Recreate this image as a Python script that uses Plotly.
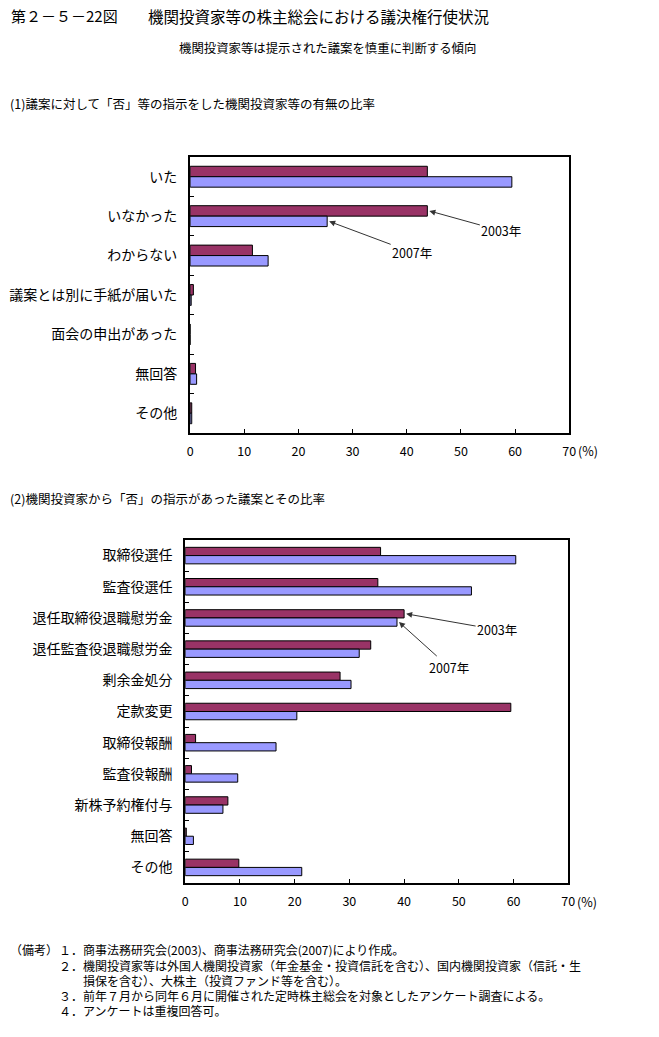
import plotly.graph_objects as go

W, H = 659, 1037

# ---- Data ----
cats1 = ["いた", "いなかった", "わからない", "議案とは別に手紙が届いた", "面会の申出があった", "無回答", "その他"]
v1_2003 = [43.8, 43.8, 11.5, 0.6, 0.0, 1.0, 0.3]
v1_2007 = [59.4, 25.3, 14.4, 0.2, 0.0, 1.2, 0.3]

cats2 = ["取締役選任", "監査役選任", "退任取締役退職慰労金", "退任監査役退職慰労金", "剰余金処分",
         "定款変更", "取締役報酬", "監査役報酬", "新株予約権付与", "無回答", "その他"]
v2_2003 = [35.7, 35.2, 40.0, 33.9, 28.3, 59.5, 1.9, 1.15, 7.8, 0.2, 9.8]
v2_2007 = [60.4, 52.3, 38.7, 31.8, 30.3, 20.4, 16.6, 9.6, 6.9, 1.5, 21.3]

series_names = ["2003年", "2007年"]
tick_vals = [0, 10, 20, 30, 40, 50, 60, 70]
tick_text = ["0", "10", "20", "30", "40", "50", "60", "70"]

notes = [
    "１．商事法務研究会(2003)、商事法務研究会(2007)により作成。",
    "２．機関投資家等は外国人機関投資家（年金基金・投資信託を含む）、国内機関投資家（信託・生",
    "損保を含む）、大株主（投資ファンド等を含む）。",
    "３．前年７月から同年６月に開催された定時株主総会を対象としたアンケート調査による。",
    "４．アンケートは重複回答可。",
]

C2003 = "#993366"
C2007 = "#9999FF"
FONT = "Noto Sans CJK JP"

def px(x):
    return x / W

def py(y):
    return 1 - y / H

fig = go.Figure()

for vals, name, col in [(v1_2003, series_names[0], C2003), (v1_2007, series_names[1], C2007)]:
    fig.add_trace(go.Bar(y=cats1, x=vals, orientation="h", name=name, marker=dict(color=col, line=dict(color="black", width=1)),
                         xaxis="x", yaxis="y"))
for vals, name, col in [(v2_2003, series_names[0], C2003), (v2_2007, series_names[1], C2007)]:
    fig.add_trace(go.Bar(y=cats2, x=vals, orientation="h", name=name, marker=dict(color=col, line=dict(color="black", width=1)),
                         xaxis="x2", yaxis="y2"))

axis_common = dict(showline=True, linecolor="black", linewidth=2, mirror=True, showgrid=False, zeroline=False)

fig.update_layout(
    width=W, height=H, margin=dict(l=0, r=0, t=0, b=0),
    paper_bgcolor="white", plot_bgcolor="white",
    showlegend=False, barmode="group", bargap=0.47, bargroupgap=0,
    font=dict(family=FONT, color="black", size=12),
    xaxis=dict(domain=[px(190), px(575)], range=[0, 70], tickvals=tick_vals, ticktext=tick_text,
               ticks="inside", ticklen=4, tickcolor="black", anchor="y", ticklabelstandoff=6,
               tickfont=dict(size=12.5), **axis_common),
    yaxis=dict(domain=[py(433), py(157)], autorange="reversed", type="category", ticks="inside", ticklen=4,
               tickson="boundaries", tickcolor="black", anchor="x", tickfont=dict(size=14), ticklabelstandoff=8,
               **axis_common),
    xaxis2=dict(domain=[px(185), px(574)], range=[0, 70], tickvals=tick_vals, ticktext=tick_text,
                ticks="inside", ticklen=4, tickcolor="black", anchor="y2", ticklabelstandoff=6,
                tickfont=dict(size=12.5), **axis_common),
    yaxis2=dict(domain=[py(883), py(540)], autorange="reversed", type="category", ticks="inside", ticklen=4,
                tickson="boundaries", tickcolor="black", anchor="x2", tickfont=dict(size=14), ticklabelstandoff=8,
                **axis_common),
)

ann = []
# titles
ann.append(dict(text="第２－５－22図", x=px(6), y=py(16), xref="paper", yref="paper", xanchor="left", yanchor="middle",
                showarrow=False, font=dict(size=15)))
ann.append(dict(text="機関投資家等の株主総会における議決権行使状況", x=px(145), y=py(16), xref="paper", yref="paper",
                xanchor="left", yanchor="middle", showarrow=False, font=dict(size=15.5)))
ann.append(dict(text="機関投資家等は提示された議案を慎重に判断する傾向", x=px(329), y=py(48), xref="paper", yref="paper",
                xanchor="center", yanchor="middle", showarrow=False, font=dict(size=12.4)))
ann.append(dict(text="(1)議案に対して「否」等の指示をした機関投資家等の有無の比率", x=px(5), y=py(103), xref="paper", yref="paper",
                xanchor="left", yanchor="middle", showarrow=False, font=dict(size=12.5)))
ann.append(dict(text="(2)機関投資家から「否」の指示があった議案とその比率", x=px(5), y=py(498), xref="paper", yref="paper",
                xanchor="left", yanchor="middle", showarrow=False, font=dict(size=12.5)))
# (%) units
ann.append(dict(text="(%)", x=px(582), y=py(451), xref="paper", yref="paper", xanchor="left", yanchor="middle",
                showarrow=False, font=dict(size=12.5)))
ann.append(dict(text="(%)", x=px(581), y=py(901), xref="paper", yref="paper", xanchor="left", yanchor="middle",
                showarrow=False, font=dict(size=12.5)))

# arrows
half = (1 - 0.47) / 4  # offset of each bar centre from category centre
i1 = cats1.index("いなかった")
ann.append(dict(text=series_names[0], x=v1_2003[i1], y=i1 - half, xref="x", yref="y", showarrow=True, arrowhead=2,
                arrowsize=1.2, arrowwidth=1, arrowcolor="#333333", ax=72, ay=20, xshift=2, font=dict(size=12.5)))
ann.append(dict(text=series_names[1], x=v1_2007[i1], y=i1 + half, xref="x", yref="y", showarrow=True, arrowhead=2,
                arrowsize=1.2, arrowwidth=1, arrowcolor="#333333", ax=83, ay=31, xshift=2, font=dict(size=12.5)))
i2 = cats2.index("退任取締役退職慰労金")
ann.append(dict(text=series_names[0], x=v2_2003[i2], y=i2 - half, xref="x2", yref="y2", showarrow=True, arrowhead=2,
                arrowsize=1.2, arrowwidth=1, arrowcolor="#333333", ax=91, ay=16, xshift=2, font=dict(size=12.5)))
ann.append(dict(text=series_names[1], x=v2_2007[i2], y=i2 + half, xref="x2", yref="y2", showarrow=True, arrowhead=2,
                arrowsize=1.2, arrowwidth=1, arrowcolor="#333333", ax=50, ay=45, xshift=2, font=dict(size=12.5)))

# notes
ann.append(dict(text="（備考）", x=px(5), y=py(949), xref="paper", yref="paper", xanchor="left", yanchor="middle",
                showarrow=False, font=dict(size=12)))
note_pos = [(55, 949), (55, 965), (79, 980), (55, 995), (55, 1010)]
for t, (nx, ny) in zip(notes, note_pos):
    ann.append(dict(text=t, x=px(nx), y=py(ny), xref="paper", yref="paper", xanchor="left", yanchor="middle",
                    showarrow=False, font=dict(size=12)))

fig.update_layout(annotations=ann)
fig.write_html("out.html", config={"displayModeBar": False},
               post_script="document.body.style.margin='0';document.body.style.overflow='hidden';")
